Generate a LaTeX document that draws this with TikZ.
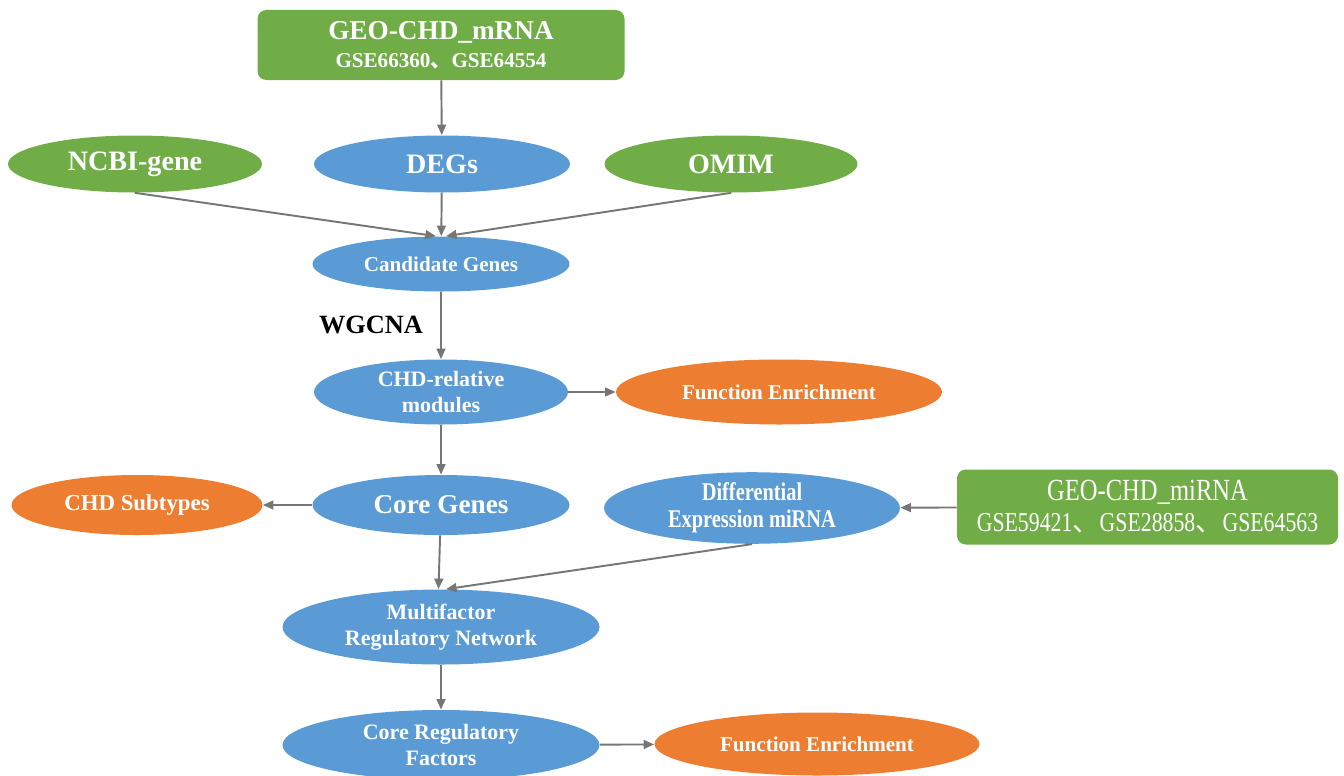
\documentclass[tikz,border=0pt]{standalone}
\usepackage{fontspec}
\setmainfont{Liberation Serif}
\newfontfamily\narrowserif[FakeStretch=0.8]{Liberation Serif}
\newfontfamily\cjk{Noto Sans CJK SC}
\usepackage{xcolor}
\usepackage{tikz}
\usetikzlibrary{arrows.meta,positioning,shapes.geometric,calc}

\definecolor{leafgreen}{HTML}{70AD47}
\definecolor{skyblue}{HTML}{5B9BD5}
\definecolor{pumpkin}{HTML}{ED7D31}
\definecolor{arrgray}{HTML}{767676}

\newcommand{\dun}{{\cjk 、}}

\begin{document}
\begin{tikzpicture}[
  oval/.style={ellipse, inner sep=0pt, text=white, align=center, font=\bfseries\fontsize{12}{14}\selectfont},
  geo/.style={oval, fill=leafgreen, minimum height=1.14cm, font=\bfseries\fontsize{16}{18}\selectfont},
  mid/.style={oval, fill=skyblue},
  res/.style={oval, fill=pumpkin},
  databox/.style={rectangle, rounded corners=5pt, fill=leafgreen, text=white, align=center, inner sep=0pt},
  arr/.style={-{Triangle[length=6pt, width=5pt]}, draw=arrgray, fill=arrgray, line width=1.1pt}
]
\useasboundingbox (0,0) rectangle (26.88,-15.5);

\node[databox, minimum width=7.34cm, minimum height=1.4cm] (mrna) at (8.82,-0.9) {%
{\bfseries\fontsize{15.5}{17}\selectfont GEO-CHD\_mRNA}\\[4pt]
{\bfseries\fontsize{12}{14}\selectfont GSE66360\dun GSE64554}};

\node[geo, minimum width=5.08cm] (ncbi) at (2.7,-3.28) {NCBI-gene};
\node[mid, minimum width=5.12cm, minimum height=1.14cm, font=\bfseries\fontsize{16}{18}\selectfont] (degs) at (8.84,-3.28) {DEGs};
\node[geo, minimum width=5.06cm] (omim) at (14.62,-3.28) {OMIM};

\node[mid, minimum width=5.14cm, minimum height=1.1cm] (cand) at (8.82,-5.28) {Candidate Genes};

\draw[arr] (mrna) -- (degs);
\draw[arr] (ncbi.south) -- ([xshift=-0.1cm]cand.north);
\draw[arr] (degs) -- (cand);
\draw[arr] (omim.south) -- ([xshift=0.1cm]cand.north);

\node[font=\bfseries\fontsize{15}{17}\selectfont] (wgcna) at (7.42,-6.5) {WGCNA};

\node[mid, minimum width=5.08cm, minimum height=1.3cm, font=\bfseries\fontsize{12.5}{15}\selectfont] (modules) at (8.82,-7.84) {CHD-relative\\modules};
\node[res, minimum width=6.52cm, minimum height=1.3cm] (enrich) at (15.58,-7.84) {Function Enrichment};

\draw[arr] (cand) -- (modules);
\draw[arr] (modules) -- (enrich);

\node[res, minimum width=5.02cm, minimum height=1.2cm, font=\bfseries\fontsize{13}{15}\selectfont] (subtypes) at (2.74,-10.1) {CHD Subtypes};
\node[mid, minimum width=5.14cm, minimum height=1.2cm, font=\bfseries\fontsize{15.5}{17}\selectfont] (core) at (8.82,-10.1) {Core Genes};
\node[mid, minimum width=5.92cm, minimum height=1.4cm, font=\narrowserif\bfseries\fontsize{14.5}{15.5}\selectfont] (diffmir) at (15.04,-10.16) {Differential\\Expression miRNA};

\node[databox, minimum width=7.62cm, minimum height=1.5cm] (mirna) at (22.95,-10.14) {%
{\narrowserif\fontsize{17.5}{18}\selectfont GEO-CHD\_miRNA}\\[4pt]
{\narrowserif\fontsize{15.5}{16}\selectfont GSE59421\dun GSE28858\dun GSE64563}};

\draw[arr] (modules) -- (core);
\draw[arr] (core) -- (subtypes);
\draw[arr] (mirna) -- (diffmir);

\node[mid, minimum width=6.34cm, minimum height=1.5cm, font=\bfseries\fontsize{12.5}{15}\selectfont] (multi) at (8.82,-12.54) {Multifactor\\Regulatory Network};

\draw[arr] (core) -- ([xshift=-0.05cm]multi.north);
\draw[arr] (diffmir.south) -- ([xshift=0.1cm]multi.north);

\node[mid, minimum width=6.34cm, minimum height=1.4cm, font=\bfseries\fontsize{12.5}{15}\selectfont] (corereg) at (8.82,-14.9) {Core Regulatory\\Factors};
\node[res, minimum width=6.5cm, minimum height=1.26cm] (enrich2) at (16.34,-14.88) {Function Enrichment};

\draw[arr] (multi) -- (corereg);
\draw[arr] (corereg) -- (enrich2);

\end{tikzpicture}
\end{document}
